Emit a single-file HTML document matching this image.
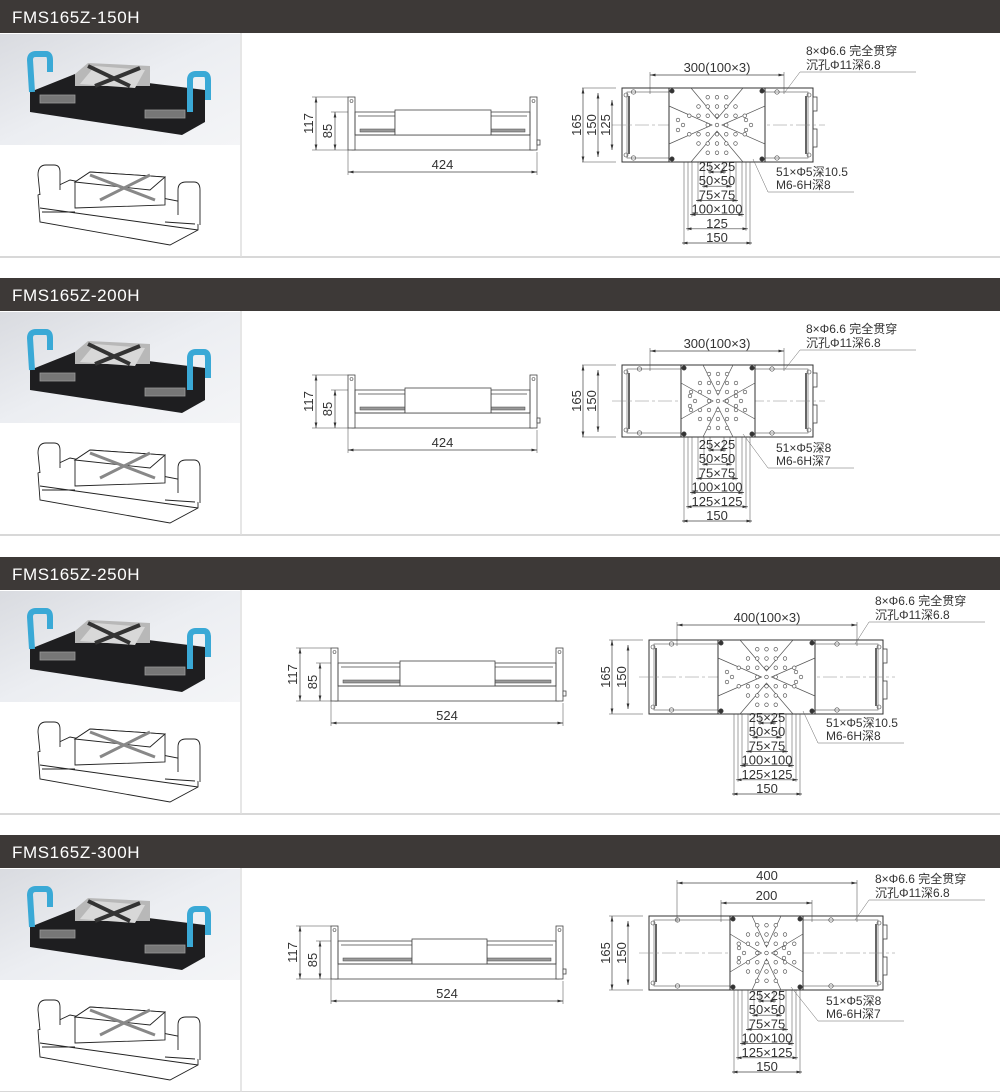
<!DOCTYPE html>
<html><head><meta charset="utf-8">
<style>
body{margin:0;background:#fff;width:1000px;height:1092px;overflow:hidden}
svg{display:block}
text{font-family:"Liberation Sans","Noto Sans CJK SC",sans-serif;fill:#333}
</style></head><body>
<svg id="s" width="1000" height="1092" viewBox="0 0 1000 1092" xmlns="http://www.w3.org/2000/svg"></svg>
<script>
var S=[
 {o:0,name:"FMS165Z-150H",side:{l:348,r:537,cl:395,cr:491,d117:316,d85:335,len:"424"},
  top:{x1:622,x2:813,y1:88,y2:162,c1:669,c2:765,dtop:[["300(100×3)",650,784,75]],cx:717,dl:[583,598,612],dlab:["165","150","125"],
  bl:["25×25","50×50","75×75","100×100","125","150"],by:171,nt:["51×Φ5深10.5","M6-6H深8"],ntx:776,nty:176,tl:[806,55]}},
 {o:278,name:"FMS165Z-200H",side:{l:348,r:537,cl:405,cr:491,d117:316,d85:335,len:"424"},
  top:{x1:622,x2:813,y1:87,y2:159,c1:681,c2:755,dtop:[["300(100×3)",650,784,73]],cx:717,dl:[583,598],dlab:["165","150"],
  bl:["25×25","50×50","75×75","100×100","125×125","150"],by:171,nt:["51×Φ5深8","M6-6H深7"],ntx:776,nty:174,tl:[806,55]}},
 {o:557,name:"FMS165Z-250H",side:{l:331,r:563,cl:400,cr:495,d117:300,d85:320,len:"524"},
  top:{x1:649,x2:883,y1:83,y2:157,c1:718,c2:815,dtop:[["400(100×3)",677,857,68]],cx:767,dl:[612,628],dlab:["165","150"],
  bl:["25×25","50×50","75×75","100×100","125×125","150"],by:165,nt:["51×Φ5深10.5","M6-6H深8"],ntx:826,nty:170,tl:[875,48]}},
 {o:835,name:"FMS165Z-300H",side:{l:331,r:563,cl:412,cr:487,d117:300,d85:320,len:"524"},
  top:{x1:649,x2:883,y1:81,y2:155,c1:730,c2:803,dtop:[["400",677,857,48],["200",721,812,68]],cx:767,dl:[612,628],dlab:["165","150"],
  bl:["25×25","50×50","75×75","100×100","125×125","150"],by:165,nt:["51×Φ5深8","M6-6H深7"],ntx:826,nty:170,tl:[875,48]}}
];
var h='<defs><linearGradient id="g" x1="0" y1="0" x2="1" y2="1"><stop offset="0" stop-color="#d9dbe0"/><stop offset="0.5" stop-color="#eceef2"/><stop offset="1" stop-color="#f4f5f7"/></linearGradient>'+
'<marker id="a" markerWidth="8" markerHeight="6" refX="8" refY="3" orient="auto-start-reverse"><path d="M0,1 L8,3 L0,5z" fill="#333"/></marker></defs>';
function L(x1,y1,x2,y2,w,c,ex){return '<line x1="'+x1+'" y1="'+y1+'" x2="'+x2+'" y2="'+y2+'" stroke="'+(c||'#444')+'" stroke-width="'+(w||0.7)+'" '+(ex||'')+'/>';}
function R(x,y,w,hh,f,s,sw){return '<rect x="'+x+'" y="'+y+'" width="'+w+'" height="'+hh+'" fill="'+(f||'none')+'" stroke="'+(s||'#444')+'" stroke-width="'+(sw||0.8)+'"/>';}
function T(x,y,t,sz,an,rot){return '<text x="'+x+'" y="'+y+'" font-size="'+(sz||11)+'" text-anchor="'+(an||'middle')+'"'+(rot?' transform="rotate(-90 '+x+' '+y+')"':'')+'>'+t+'</text>';}
function D(x1,y1,x2,y2){return L(x1,y1,x2,y2,0.7,'#444','marker-start="url(#a)" marker-end="url(#a)"');}
function C(x,y,r,f){return '<circle cx="'+x+'" cy="'+y+'" r="'+r+'" fill="'+(f||'none')+'" stroke="#444" stroke-width="0.6"/>';}
S.forEach(function(s){
 var g='<g transform="translate(0,'+s.o+')">';
 g+='<rect x="0" y="0" width="1000" height="33" fill="#3d3937"/>';
 g+='<text x="12" y="23" font-size="17" text-anchor="start" style="fill:#fff;letter-spacing:0.6px">'+s.name+'</text>';
 g+=L(0,257,1000,257,1.5,'#ccc')+L(241,33,241,257,1.5,'#ddd');
 g+='<rect x="0" y="34" width="240" height="111" fill="url(#g)"/>';
 g+='<polygon points="30,92 75,74 205,90 205,122 182,135 30,112" fill="#1e1e20"/>';
 g+='<polygon points="75,74 88,63 150,66 150,86 75,86" fill="#b8b8b8"/><polygon points="95,66 145,70 135,88 80,84" fill="#d8d8d8"/>';
 g+='<path d="M88,66 L130,86 M140,68 L95,86" stroke="#333" stroke-width="4"/>';
 g+=R(40,95,35,8,'#777','#999')+R(145,110,40,8,'#777','#999');
 g+='<path d="M32,92 L30,60 Q30,54 36,54 L46,54 Q50,54 50,60 L50,72" fill="none" stroke="#3aa9d6" stroke-width="6"/>';
 g+='<path d="M190,112 L190,80 Q190,74 196,74 L204,74 Q208,74 208,80 L208,100" fill="none" stroke="#3aa9d6" stroke-width="6"/>';
 g+='<g fill="#fff" stroke="#222" stroke-width="0.9">';
 g+='<polygon points="38,195 40,222 170,245 198,230 198,205 70,180"/>';
 g+='<polygon points="75,182 90,172 165,177 165,205 75,208"/>';
 g+='<polygon points="75,182 90,172 165,177 150,190"/>';
 g+='<path d="M40,195 L38,175 Q38,165 46,165 L54,165 Q60,165 60,172 L60,190"/>';
 g+='<path d="M178,215 L178,190 Q178,182 186,182 L194,182 Q200,182 200,190 L200,225"/>';
 g+='<path d="M90,175 L155,200 M150,175 L100,200" stroke-width="3" stroke="#888"/>';
 g+='<line x1="40" y1="208" x2="198" y2="230"/><line x1="42" y1="212" x2="75" y2="212"/><line x1="165" y1="222" x2="195" y2="224"/>';
 g+='</g>';
 var d=s.side,L0=d.l,R0=d.r,yb=s.o>500?144:150,yt=yb-53,ym=yb-38,yB=yb-15;
 g+=R(L0+4,yB,R0-L0-8,15,'#fff');
 g+=R(L0,yt,7,53,'#fff')+R(R0-7,yt,7,53,'#fff');
 g+=C(L0+3.5,yt+4,1.5)+C(R0-3.5,yt+4,1.5)+R(R0,yB+5,3,5,'#fff');
 g+=R(L0+7,ym,d.cl-L0-7,yB-ym,'none')+R(d.cr,ym,R0-7-d.cr,yB-ym,'none');
 g+=L(L0+10,ym+4,d.cl,ym+4)+L(d.cr,ym+4,R0-10,ym+4);
 g+=R(L0+12,yB-6,d.cl-L0-12,3,'#999','#444',0.5)+R(d.cr,yB-6,R0-12-d.cr,3,'#999','#444',0.5);
 g+=R(d.cl,ym-2,d.cr-d.cl,yB-ym+2,'#fff');
 g+=L(d.d117-4,yt,L0,yt,0.5)+L(d.d117-4,yb,L0,yb,0.5)+L(d.d85-4,ym,L0,ym,0.5);
 g+=D(d.d117,yt,d.d117,yb)+D(d.d85,ym,d.d85,yb);
 g+=T(d.d117-3,(yt+yb)/2,"117",13,'middle',1)+T(d.d85-3,(ym+yb)/2,"85",13,'middle',1);
 var yl=yb+22;
 g+=L(L0,yb,L0,yl+3,0.5)+L(R0,yb+2,R0,yl+3,0.5)+D(L0,yl,R0,yl)+T((L0+R0)/2,yl-3,d.len,13);
 var t=s.top,x1=t.x1,x2=t.x2,y1=t.y1,y2=t.y2,cy=(y1+y2)/2;
 g+=R(x1,y1,x2-x1,y2-y1,'#fff','#333',1);
 g+=R(x1+5,y1+4,x2-x1-10,y2-y1-8,'none','#555',0.6);
 g+=L(x1+7,y1+8,x1+7,y2-8,1.5,'#333')+L(x2-7,y1+8,x2-7,y2-8,1.5,'#333');
 g+=R(x2,cy-28,4,14,'#fff')+R(x2,cy+4,4,18,'#fff');
 g+=L(x1-10,cy,x2+12,cy,0.5,'#888','stroke-dasharray="14 3 3 3"');
 [x1+4,x2-4].forEach(function(x){g+=C(x,y1+7,2)+C(x,y2-7,2);});
 var mid=[(x1+t.c1)/2,(t.c2+x2)/2];
 mid.forEach(function(x){g+=C(x-12,y1+4,2.2)+C(x-12,y2-4,2.2);});
 var c1=t.c1,c2=t.c2,ccx=(c1+c2)/2;
 g+=R(c1,y1,c2-c1,y2-y1,'#fff','#333',1);
 g+='<path d="M'+c1+','+(y1+18)+' L'+(ccx-5)+','+cy+' L'+c1+','+(y2-18)+' M'+c2+','+(y1+18)+' L'+(ccx+5)+','+cy+' L'+c2+','+(y2-18)+' M'+(c1+22)+','+y1+' L'+ccx+','+(cy-6)+' L'+(c2-22)+','+y1+' M'+(c1+22)+','+y2+' L'+ccx+','+(cy+6)+' L'+(c2-22)+','+y2+'" fill="none" stroke="#555" stroke-width="0.7"/>';
 var sp=(y2-y1)/8;
 for(var i=-3;i<=3;i++)for(var j=-3;j<=3;j++){if(Math.abs(i)+Math.abs(j)>4)continue;if(Math.abs(i)>=2&&j==0)continue;g+=C(ccx+i*sp,cy+j*sp,1.8,'#fff');}
 [[-1,1],[1,1]].forEach(function(){});
 [c1+14,c2-14].forEach(function(x){g+=C(x,cy,1.8,'#fff')+C(x-5,cy-5,1.8,'#fff')+C(x-5,cy+5,1.8,'#fff');});
 [[c1+3,y1+3],[c2-3,y1+3],[c1+3,y2-3],[c2-3,y2-3]].forEach(function(p){g+=C(p[0],p[1],2.2,'#333');});
 g+=L(x1-6,y1,x1-40,y1,0.5)+L(x1-6,y2,x1-40,y2,0.5);
 t.dl.forEach(function(x,k){var inset=k==0?0:(k==1?5:12);g+=D(x,y1+inset,x,y2-inset)+T(x-2,cy,t.dlab[k],13,'middle',1);});
 t.dtop.forEach(function(a){g+=L(a[1],a[3]-3,a[1],y1+6,0.5)+L(a[2],a[3]-3,a[2],y1+6,0.5)+D(a[1],a[3],a[2],a[3])+T((a[1]+a[2])/2,a[3]-3,a[0],13);});
 var cx=t.cx,step=[7,13,19,25,29,33];
 for(var k=0;k<6;k++){var w=step[k],yy=t.by+k*14.2;g+=L(cx-w,y2,cx-w,yy+3,0.5)+L(cx+w,y2,cx+w,yy+3,0.5);}
 for(var k=0;k<6;k++){var w=step[k],yy=t.by+k*14.2;g+=D(cx-w-2,yy+1,cx+w+2,yy+1)+T(cx,yy,t.bl[k],13);}
 g+=T(t.ntx,t.nty,t.nt[0],12,'start')+T(t.ntx,t.nty+13,t.nt[1],12,'start')+L(t.ntx-8,t.nty+16,t.ntx+78,t.nty+16,0.5,'#666')+L(t.ntx-8,t.nty+16,c2-12,y2-3,0.5,'#666');
 g+=T(t.tl[0],t.tl[1],"8×Φ6.6 完全贯穿",12,'start')+T(t.tl[0],t.tl[1]+14,"沉孔Φ11深6.8",12,'start')+L(t.tl[0]-6,t.tl[1]+17,t.tl[0]+110,t.tl[1]+17,0.5,'#666')+L(t.tl[0]-6,t.tl[1]+17,x2-28,y1+4,0.5,'#666');
 g+='</g>';h+=g;
});
document.getElementById('s').innerHTML=h;
</script>
</body></html>
